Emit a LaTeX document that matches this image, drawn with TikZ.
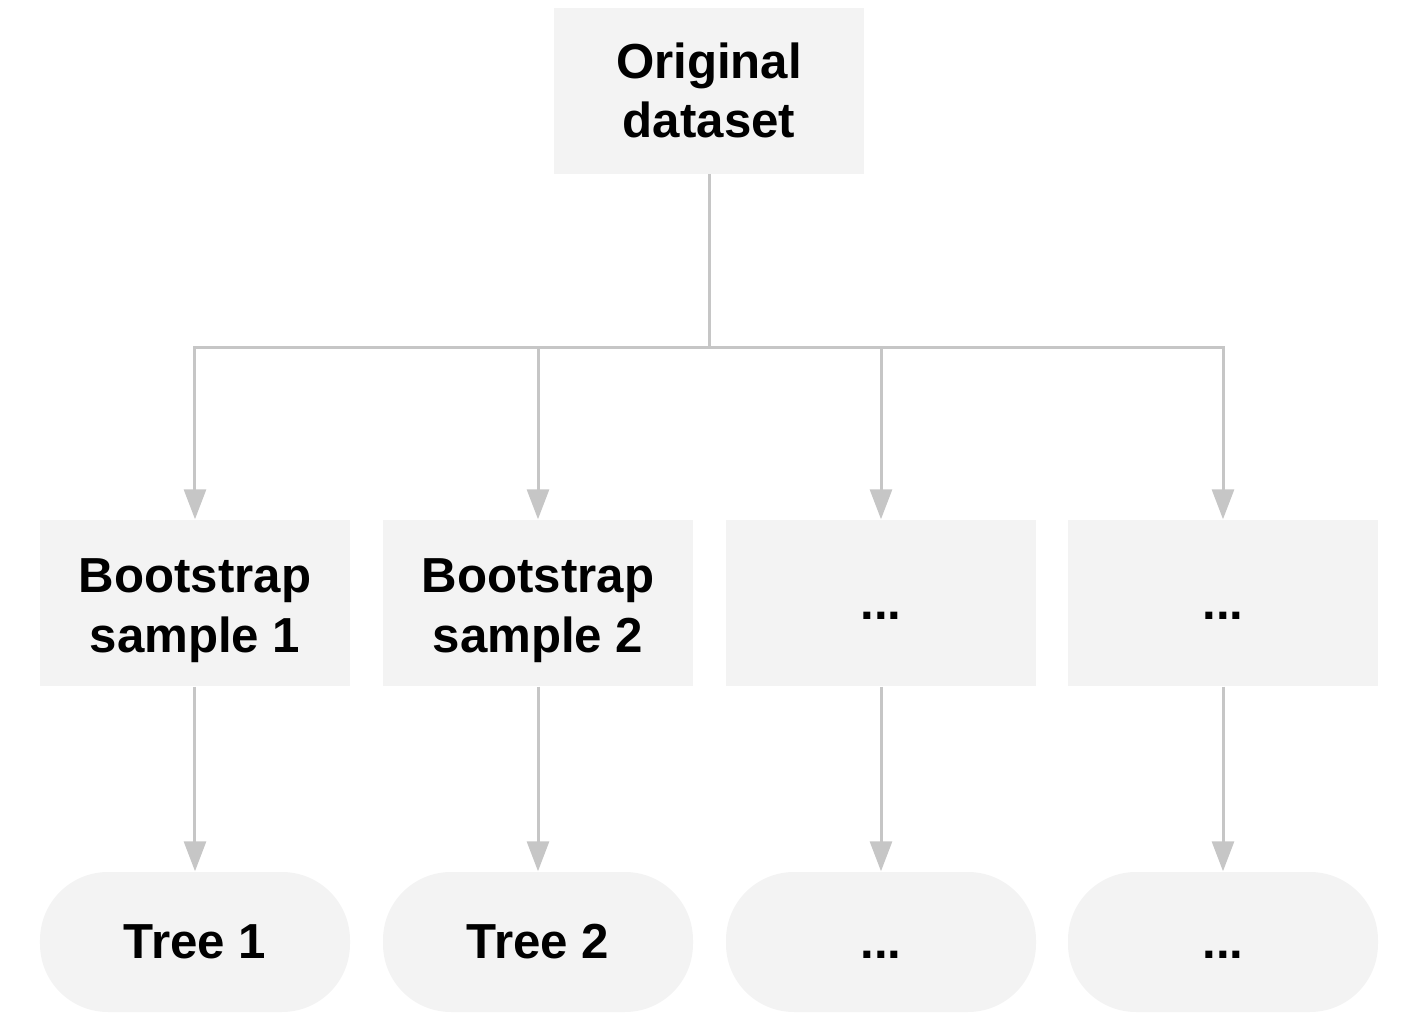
\documentclass[tikz,border=0pt]{standalone}
\usepackage{fontspec}
\setmainfont{Liberation Sans}
\usepackage{tikz}
\usetikzlibrary{arrows.meta}
\definecolor{boxfill}{HTML}{F3F3F3}
\definecolor{linegray}{HTML}{C6C6C6}

\begin{document}
\begin{tikzpicture}
\tikzstyle{every node}+=[inner sep=0pt, font=\fontsize{14}{17}\selectfont\bfseries, align=center]
\tikzstyle{box}=[fill=boxfill, minimum width=3.1cm, minimum height=1.66cm]
\tikzstyle{tree}=[fill=boxfill, minimum width=3.1cm, minimum height=1.4cm, rounded corners=0.68cm]
\tikzstyle{link}=[draw=linegray, line width=0.03cm]
\tikzstyle{arrow}=[link, -{Triangle[width=0.22cm,length=0.3cm]}, linegray]
\useasboundingbox (0,0) rectangle (14.13,-10.33);
\node [box] (orig) at (7.09,-0.905) {Original\\dataset};
\coordinate (split) at (7.09,-3.47);
\node [box] (boot1) at (1.95,-6.03) {\rule{0pt}{14pt}Bootstrap\\sample 1};
\node [box] (boot2) at (5.38,-6.03) {\rule{0pt}{14pt}Bootstrap\\sample 2};
\node [box] (boot3) at (8.81,-6.03) {\vphantom{T}...};
\node [box] (boot4) at (12.23,-6.03) {\vphantom{T}...};
\node [tree] (tree1) at (1.95,-9.42) {Tree 1};
\node [tree] (tree2) at (5.38,-9.42) {Tree 2};
\node [tree] (tree3) at (8.81,-9.42) {\vphantom{T}...};
\node [tree] (tree4) at (12.23,-9.42) {\vphantom{T}...};
% fan out
\draw [link] (orig) -- (split);
\draw [arrow] (split) -| (boot1);
\draw [arrow] (split) -| (boot2);
\draw [arrow] (split) -| (boot3);
\draw [arrow] (split) -| (boot4);
% samples to trees
\draw [arrow] (boot1) -- (tree1);
\draw [arrow] (boot2) -- (tree2);
\draw [arrow] (boot3) -- (tree3);
\draw [arrow] (boot4) -- (tree4);
\end{tikzpicture}
\end{document}
